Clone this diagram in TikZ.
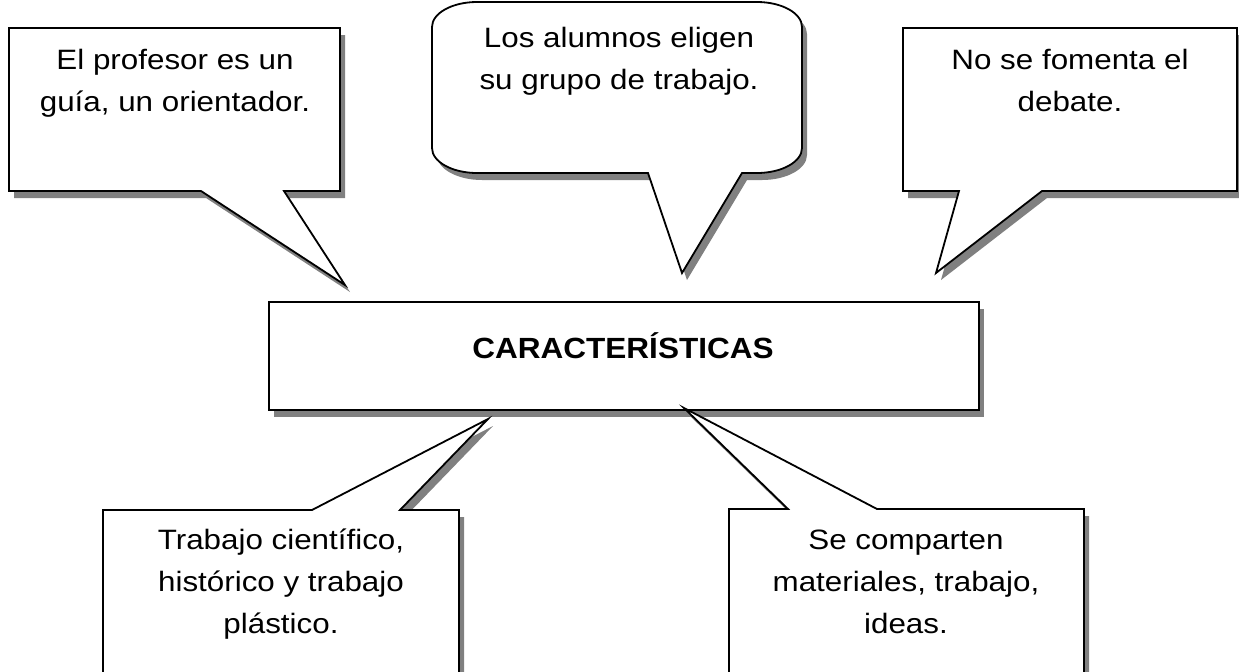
\documentclass[tikz,border=0pt]{standalone}
\usepackage{fontspec}
\setmainfont{Liberation Sans}[FakeStretch=1.12]
\newfontfamily\titlefont{Liberation Sans}[FakeStretch=1.08]
\definecolor{shadowgray}{HTML}{808080}
\newcommand\pathprof{(9,28) -- (340,28) -- (340,191) -- (284,191) -- (345,285) -- (201,191) -- (9,191) -- cycle}
\newcommand\pathalum{(477,2) -- (757,2) .. controls (781.9,2) and (802,13.2) .. (802,27) -- (802,148) .. controls (802,161.8) and (781.9,173) .. (757,173) -- (742,173) -- (682,273) -- (648,173) -- (477,173) .. controls (452.1,173) and (432,161.8) .. (432,148) -- (432,27) .. controls (432,13.2) and (452.1,2) .. (477,2) -- cycle}
\newcommand\pathdeba{(903,28) -- (1237,28) -- (1237,191) -- (1042,191) -- (936,273) -- (959,191) -- (903,191) -- cycle}
\newcommand\pathcien{(103,690) -- (103,510) -- (312,510) -- (488,419) -- (400,510) -- (459,510) -- (459,690) -- cycle}
\newcommand\pathcomp{(729,690) -- (729,509) -- (788,509) -- (684,408) -- (877,509) -- (1084,509) -- (1084,690) -- cycle}
\begin{document}
\begin{tikzpicture}[x=0.5pt,y=-0.5pt,
  outline/.style={draw=black, line width=0.9pt, fill=white, line join=miter},
  shadowfill/.style={fill=shadowgray, draw=none},
  txt/.style={inner sep=0pt, align=center, font=\fontsize{14}{21}\selectfont, anchor=base},
  titletxt/.style={inner sep=0pt, font=\titlefont\fontsize{14.6}{17}\selectfont\bfseries, anchor=base}]
\useasboundingbox (0,0) rectangle (1239,671);
\fill[white] (0,0) rectangle (1239,671);
% central box
\fill[shadowfill] (274,309) rectangle (984,417);
\node[outline, rectangle, minimum width=355pt, minimum height=54pt, inner sep=0pt] (car) at (624,356) {};
\node[titletxt] (cartext) at (623,358) {CARACTERÍSTICAS};
% top-left callout
\fill[shadowfill, shift={(5,7)}] \pathprof;
\draw[outline] \pathprof;
\node[txt] (prof) at (175,111) {El profesor es un\\guía, un orientador.};
% top-middle rounded callout
\fill[shadowfill, shift={(5,7)}] \pathalum;
\draw[outline] \pathalum;
\node[txt] (alum) at (619,89) {Los alumnos eligen\\su grupo de trabajo.};
% top-right callout
\fill[shadowfill, shift={(5,7)}] \pathdeba;
\draw[outline] \pathdeba;
\node[txt] (deba) at (1070,111) {No se fomenta el\\debate.};
% bottom-left callout
\fill[shadowfill, shift={(5,7)}] \pathcien;
\draw[outline] \pathcien;
\node[txt] (cien) at (281,633) {Trabajo científico,\\histórico y trabajo\\plástico.};
% bottom-right callout
\fill[shadowfill, shift={(5,7)}] \pathcomp;
\draw[outline] \pathcomp;
\node[txt] (comp) at (906,633) {Se comparten\\materiales, trabajo,\\ideas.};
\end{tikzpicture}
\end{document}
